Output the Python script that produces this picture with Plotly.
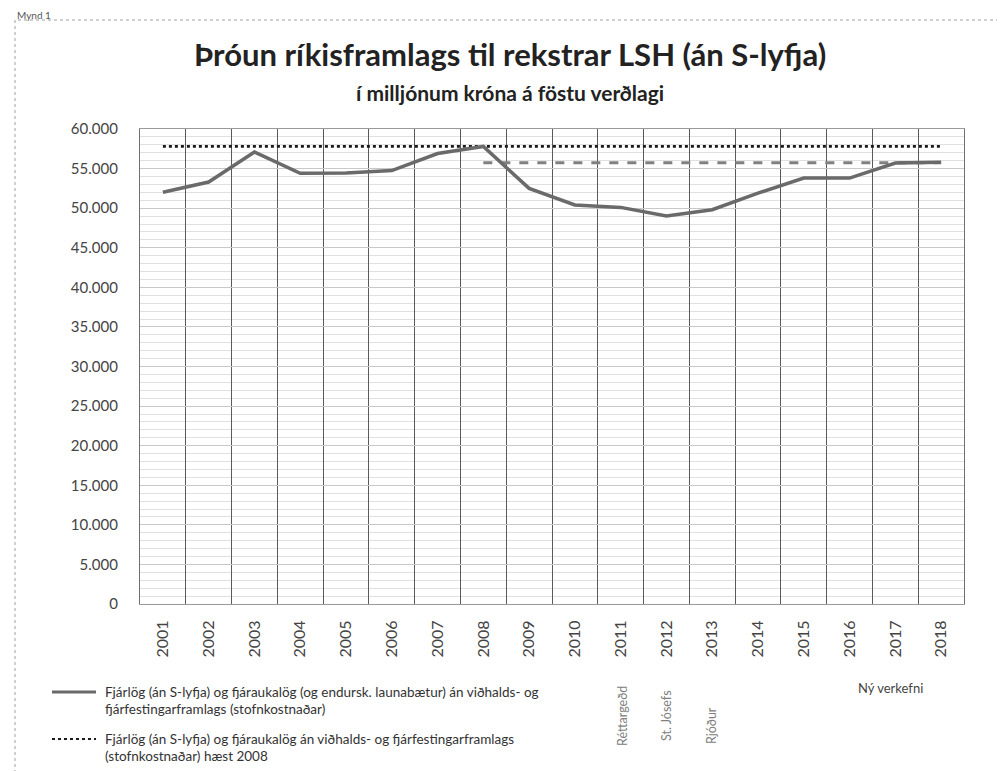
import plotly.graph_objects as go

years = [str(y) for y in range(2001, 2019)]
framlag = [52000, 53300, 57100, 54400, 54450, 54750, 56900, 57800, 52500,
           50400, 50100, 49000, 49800, 51900, 53800, 53800, 55700, 55800]
hamark_2008 = 57800          # dotted line: peak level 2008
dashed_years = ["2008", "2018"]
dashed_level = 55750         # dashed line: level reached 2017-2018

y_ticks = list(range(0, 60001, 5000))

title = "Þróun ríkisframlags til rekstrar LSH (án S-lyfja)"
subtitle = "í milljónum króna á föstu verðlagi"
legend1 = ["Fjárlög (án S-lyfja) og fjáraukalög (og endursk. launabætur) án viðhalds- og",
           "fjárfestingarframlags (stofnkostnaðar)"]
legend2 = ["Fjárlög (án S-lyfja) og fjáraukalög án viðhalds- og fjárfestingarframlags",
           "(stofnkostnaðar) hæst 2008"]
side_notes = ["Réttargeðd", "St. Jósefs", "Rjóður"]
new_tasks = "Ný verkefni"

FONT = "Lato"
W, H = 1005, 771
L, R, T, B = 132, 956, 121, 596


def px(x):
    return (x - L) / (R - L)


def py(y):
    return (B - y) / (B - T)


fig = go.Figure()
fig.add_trace(go.Scatter(x=years, y=[hamark_2008] * len(years), mode="lines",
                         line=dict(color="#1a1a1a", width=2.6, dash="dot"),
                         hoverinfo="skip"))
fig.add_trace(go.Scatter(x=dashed_years, y=[dashed_level] * len(dashed_years), mode="lines",
                         line=dict(color="#808080", width=3, dash="dash"),
                         hoverinfo="skip"))
fig.add_trace(go.Scatter(x=years, y=framlag, mode="lines",
                         line=dict(color="#6a6a6a", width=3.5)))

fig.update_layout(
    width=W, height=H,
    margin=dict(l=L, r=W - R, t=T, b=H - B),
    paper_bgcolor="white", plot_bgcolor="white",
    showlegend=False,
    separators=",.",
    font=dict(family=FONT, color="#333333"),
)
fig.update_xaxes(
    type="category", categoryorder="array", categoryarray=years,
    range=[-0.5, len(years) - 0.5],
    tickson="boundaries", showgrid=True, gridcolor="#5a5a5a", gridwidth=1.2,
    tickangle=-90, tickfont=dict(size=16, color="#444444", family=FONT),
    ticks="", showline=True, linecolor="#9a9a9a", linewidth=1, mirror=True,
    ticklabelstandoff=9,
)
fig.update_yaxes(
    range=[0, 60000], tickvals=y_ticks, tickformat=",d",
    showgrid=True, gridcolor="#c8c8c8", gridwidth=1,
    minor=dict(dtick=1000, showgrid=True, gridcolor="#e0e0e0", gridwidth=1),
    tickfont=dict(size=15, color="#444444", family=FONT),
    showline=True, linecolor="#707070", linewidth=1.2, mirror=True,
    ticklabelstandoff=18, zeroline=False,
)

ann = []
ann.append(dict(text="<b>" + title + "</b>", x=px(502), y=py(46), xref="paper", yref="paper",
                showarrow=False, font=dict(size=31, color="#222222", family=FONT),
                xanchor="center", yanchor="middle"))
ann.append(dict(text="<b>" + subtitle + "</b>", x=px(502), y=py(84), xref="paper", yref="paper",
                showarrow=False, font=dict(size=21, color="#222222", family=FONT),
                xanchor="center", yanchor="middle"))
ann.append(dict(text="Mynd 1", x=px(8), y=py(0), xref="paper", yref="paper",
                showarrow=False, font=dict(size=10, color="#555555", family=FONT),
                xanchor="left", yanchor="top", borderpad=0))

for i, line in enumerate(legend1):
    ann.append(dict(text=line, x=px(95), y=py(684 + 17 * i), xref="paper", yref="paper",
                    showarrow=False, font=dict(size=13.5, color="#333333", family=FONT),
                    xanchor="left", yanchor="middle"))
for i, line in enumerate(legend2):
    ann.append(dict(text=line, x=px(95), y=py(731 + 17 * i), xref="paper", yref="paper",
                    showarrow=False, font=dict(size=13.5, color="#333333", family=FONT),
                    xanchor="left", yanchor="middle"))

for xpos, ypos, txt in zip([614, 658, 703], [708, 708, 718], side_notes):
    ann.append(dict(text=txt, x=px(xpos), y=py(ypos), xref="paper", yref="paper",
                    showarrow=False, textangle=-90,
                    font=dict(size=12.5, color="#808080", family=FONT),
                    xanchor="center", yanchor="middle"))
ann.append(dict(text=new_tasks, x=px(882), y=py(680), xref="paper", yref="paper",
                showarrow=False, font=dict(size=13, color="#444444", family=FONT),
                xanchor="center", yanchor="middle"))
fig.update_layout(annotations=ann)

shapes = [
    dict(type="rect", xref="paper", yref="paper", x0=px(7), x1=px(997), y0=py(768), y1=py(12),
         line=dict(color="#a0a0a0", width=1, dash="dot"), fillcolor="rgba(0,0,0,0)", layer="below"),
    dict(type="line", xref="paper", yref="paper", x0=px(44), x1=px(88), y0=py(684), y1=py(684),
         line=dict(color="#6a6a6a", width=3)),
    dict(type="line", xref="paper", yref="paper", x0=px(44), x1=px(88), y0=py(731), y1=py(731),
         line=dict(color="#1a1a1a", width=2, dash="dot")),
]
fig.update_layout(shapes=shapes)

fig.write_html("out.html")
